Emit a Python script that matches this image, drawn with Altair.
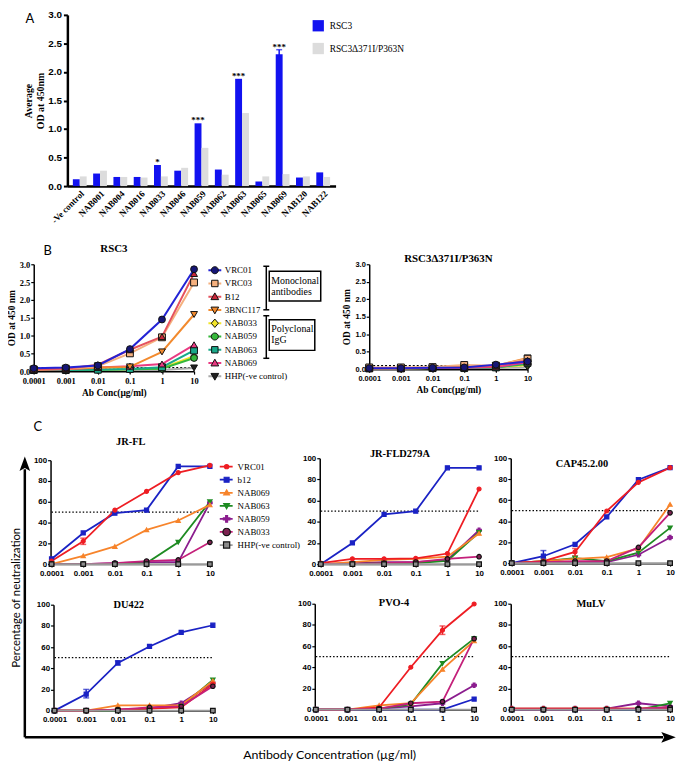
import altair as alt
import pandas as pd

W, H = 676, 756
SERIF = "Liberation Serif"
SANS = "Liberation Sans"
CAL = "Lato"

conc = [0.0001, 0.001, 0.01, 0.1, 1, 10]

# ---------------- Panel A data ----------------
a_categories = ["-Ve control", "NAB001", "NAB004", "NAB016", "NAB033", "NAB046", "NAB059",
                "NAB062", "NAB063", "NAB065", "NAB069", "NAB120", "NAB122"]
a_series = ["RSC3", "RSC3\u0394371I/P363N"]
a_rsc3 = [0.12, 0.22, 0.16, 0.16, 0.37, 0.27, 1.10, 0.29, 1.88, 0.08, 2.31, 0.15, 0.24]
a_mutant = [0.17, 0.27, 0.16, 0.15, 0.17, 0.32, 0.67, 0.20, 1.28, 0.17, 0.21, 0.17, 0.16]
a_err_category = ["NAB069"]
a_err_low = [2.23]
a_err_high = [2.39]
a_star_category = ["NAB033", "NAB059", "NAB063", "NAB069"]
a_star_height = [0.37, 1.10, 1.88, 2.39]
a_star_label = ["*", "***", "***", "***"]
a_colors = ["#1212F0", "#DCDCDC"]
a_ticks = [0.0, 0.5, 1.0, 1.5, 2.0, 2.5, 3.0]

# ---------------- Panel B data ----------------
b_series = ["VRC01", "VRC03", "B12", "3BNC117", "NAB033", "NAB059", "NAB063", "NAB069", "HHP(-ve control)"]
b_draw_order = ["HHP(-ve control)", "NAB033", "NAB059", "NAB063", "NAB069", "3BNC117", "VRC03", "B12", "VRC01"]
b_line_colors = ["#2323D5", "#F5B07E", "#E5525E", "#F28A2E", "#F2E52A", "#36B83B", "#1AA889", "#E93A82", "#A9A9A9"]
b_fill_colors = ["#161675", "#F5B07E", "#C8283A", "#F28A2E", "#F2E52A", "#36B83B", "#1AA889", "#E93A82", "#202020"]
b_shapes = ["circle", "square", "triangle-up", "triangle-down", "diamond", "circle", "square", "triangle-up", "triangle-down"]
b_rsc3 = {
    "VRC01": [0.08, 0.10, 0.16, 0.62, 1.45, 2.86],
    "VRC03": [0.05, 0.07, 0.14, 0.50, 0.95, 2.49],
    "B12": [0.05, 0.07, 0.18, 0.60, 0.97, 2.74],
    "3BNC117": [0.04, 0.06, 0.10, 0.12, 0.54, 1.59],
    "NAB033": [0.03, 0.03, 0.04, 0.05, 0.09, 0.42],
    "NAB059": [0.03, 0.03, 0.04, 0.05, 0.07, 0.37],
    "NAB063": [0.03, 0.03, 0.04, 0.06, 0.11, 0.58],
    "NAB069": [0.04, 0.05, 0.10, 0.14, 0.20, 0.74],
    "HHP(-ve control)": [0.03, 0.03, 0.03, 0.03, 0.03, 0.09],
}
b_mutant = {
    "VRC01": [0.03, 0.03, 0.04, 0.05, 0.13, 0.22],
    "VRC03": [0.05, 0.05, 0.06, 0.12, 0.10, 0.30],
    "B12": [0.03, 0.03, 0.03, 0.05, 0.10, 0.25],
    "3BNC117": [0.03, 0.03, 0.04, 0.08, 0.10, 0.32],
    "NAB033": [0.02, 0.02, 0.03, 0.03, 0.05, 0.12],
    "NAB059": [0.02, 0.02, 0.03, 0.03, 0.05, 0.15],
    "NAB063": [0.02, 0.02, 0.03, 0.03, 0.05, 0.18],
    "NAB069": [0.02, 0.02, 0.03, 0.04, 0.06, 0.20],
    "HHP(-ve control)": [0.03, 0.03, 0.03, 0.03, 0.03, 0.05],
}
b_threshold = 0.1
b_ticks = [0.0, 0.5, 1.0, 1.5, 2.0, 2.5, 3.0]

# ---------------- Panel C data ----------------
c_series = ["VRC01", "b12", "NAB069", "NAB063", "NAB059", "NAB033", "HHP(-ve control)"]
c_draw_order = ["NAB059", "NAB063", "NAB069", "b12", "VRC01", "NAB033", "HHP(-ve control)"]
c_line_colors = ["#EE1D23", "#1A22C4", "#F7842B", "#1E8B22", "#8B1D8E", "#C4207A", "#9A9A9A"]
c_fill_colors = ["#EE1D23", "#1A22C4", "#F7842B", "#1E8B22", "#8B1D8E", "#7B2250", "#8C8C8C"]
c_stroke_colors = ["#EE1D23", "#1A22C4", "#F7842B", "#1E8B22", "#8B1D8E", "#111111", "#111111"]
c_shapes = ["circle", "square", "triangle-up", "triangle-down", "cross", "circle", "square"]
c_sizes = [16, 22, 24, 24, 30, 42, 32]
c_threshold = 50
c_ticks = [0, 20, 40, 60, 80, 100]

c_jrfl = {
    "VRC01": [3, 22, 52, 70, 88, 95], "b12": [5, 30, 49, 52, 94, 94],
    "NAB069": [0, 8, 17, 33, 42, 57], "NAB063": [0, 0, 0, 1, 21, 60],
    "NAB059": [0, 0, 1, 2, 2, 59], "NAB033": [0, 0, 1, 3, 4, 21],
    "HHP(-ve control)": [0, 0, 0, 0, 0, 0]}
c_jrfl_d279a = {
    "VRC01": [1, 5, 5, 5.5, 10, 71], "b12": [0, 20, 47, 50, 91, 91],
    "NAB069": [0, 2, 4, 5, 7, 29], "NAB063": [0, 0, 1, 1, 3, 30],
    "NAB059": [0, 1, 2, 2, 4, 32], "NAB033": [0, 0, 1, 2, 5, 7],
    "HHP(-ve control)": [0, 0, 0, 0, 0, 0]}
c_cap45 = {
    "VRC01": [0, 2, 10.7, 49.7, 77, 91], "b12": [0, 6.6, 18, 44, 79.5, 91],
    "NAB069": [0, 2, 4, 5.7, 14, 56], "NAB063": [0, 2, 4.7, 2, 10, 33.6],
    "NAB059": [0, 1, 1, 1, 8, 24.5], "NAB033": [0, 1, 2, 2, 15, 48],
    "HHP(-ve control)": [0, 0, 0, 0, 0, 0]}
c_du422 = {
    "VRC01": [0, 0, 1, 2, 3, 25], "b12": [0, 15.6, 45, 60.6, 73.8, 80.6],
    "NAB069": [0, 0, 5, 5, 5, 28], "NAB063": [0, 0, 0, 2, 4, 29],
    "NAB059": [0, 0, 1, 2, 7, 26], "NAB033": [0, 0, 1, 3, 4, 23],
    "HHP(-ve control)": [0, 0, 0, 0, 0, 0]}
c_pvo4 = {
    "VRC01": [0, 0, 2, 40, 75, 99.7], "b12": [0, 0, 0, 0, 0, 10],
    "NAB069": [0, 0, 4, 6, 38, 65], "NAB063": [0, 0, 1, 5, 43.7, 67],
    "NAB059": [0, 0, 1, 3, 6, 23], "NAB033": [0, 0, 1, 6, 7.6, 67],
    "HHP(-ve control)": [0, 0, 0, 0, 0, 0]}
c_mulv = {
    "VRC01": [1, 1, 1, 1, 1, 1], "b12": [0, 0, 0, 0, 0, 1],
    "NAB069": [1, 1, 1, 1, 1, 2], "NAB063": [0, 0, 0, 0, 0, 6],
    "NAB059": [1, 1, 1, 1, 6, 3], "NAB033": [0, 0, 0, 0, 1, 2],
    "HHP(-ve control)": [0, 0, 0, 0, 0, 0]}

c_err_panel = ["JR-FL", "CAP45.2.00", "CAP45.2.00", "DU422", "DU422", "PVO-4"]
c_err_series = ["VRC01", "b12", "VRC01", "b12", "b12", "VRC01"]
c_err_conc = [0.001, 0.001, 0.01, 0.001, 0.01, 1]
c_err_low = [19, 2, 7, 12, 43, 71]
c_err_high = [25, 12, 14, 20, 47, 79]

# legend symbol paths (unit box, scaled by legend symbol size)
LINE_PATH = "M-1,0H1"
ARROW_UP = "M0,-1L0.55,0.5L0,0.2L-0.55,0.5Z"
ARROW_RIGHT = "M1,0L-0.5,0.55L-0.2,0L-0.5,-0.55Z"
def circ(r):
    return f"M{r},0A{r},{r},0,1,1,{-r},0A{r},{r},0,1,1,{r},0Z"
def sq(r):
    return f"M{-r},{-r}H{r}V{r}H{-r}Z"
def tri_up(r):
    return f"M0,{-r}L{r},{r * 0.75}H{-r}Z"
def tri_down(r):
    return f"M0,{r}L{r},{-r * 0.75}H{-r}Z"
def diam(r):
    return f"M0,{-r}L{r * 0.85},0L0,{r}L{-r * 0.85},0Z"
def plus(r):
    t = r * 0.3
    return (f"M{-r},{-t}H{-t}V{-r}H{t}V{-t}H{r}V{t}H{t}V{r}H{-t}V{t}H{-r}Z")

b_legend_paths = [circ(0.55), sq(0.5), tri_up(0.6), tri_down(0.6), diam(0.65), circ(0.55), sq(0.5), tri_up(0.6), tri_down(0.6)]
c_legend_paths = [circ(0.33), sq(0.38), tri_up(0.45), tri_down(0.45), plus(0.5), circ(0.58), sq(0.48)]


# ---------------- helpers ----------------
def x_axis(y0, font, size, title=None):
    kw = dict(orient="bottom", offset=y0 - H, values=conc, format="~g", labelFont=font,
              labelFontWeight="bold", labelFontSize=size, labelColor="black", labelFlush=False,
              labelOverlap=False, labelBound=False, labelPadding=2, tickSize=3, tickWidth=1.2,
              tickColor="black", domainColor="black", domainWidth=1.5, grid=False)
    if title:
        kw.update(title=title, titleFont=SERIF, titleFontWeight="bold", titleFontSize=9.5,
                  titleColor="black", titlePadding=3)
    else:
        kw.update(title=None)
    return alt.Axis(**kw)


def y_axis(x0, font, size, ticks, fmt, title=None):
    kw = dict(orient="left", offset=-x0, values=ticks, format=fmt, labelFont=font,
              labelFontWeight="bold", labelFontSize=size, labelColor="black", labelFlush=False,
              labelOverlap=False, labelBound=False, labelPadding=1, tickSize=3, tickWidth=1.2,
              tickColor="black", domainColor="black", domainWidth=1.5, grid=False)
    if title:
        kw.update(title=title, titleFont=SERIF, titleFontWeight="bold", titleFontSize=9.5,
                  titleColor="black", titlePadding=3)
    else:
        kw.update(title=None)
    return alt.Axis(**kw)


def dose_panel(values, series, order, line_colors, fill_colors, stroke_colors, shapes, sizes,
               xr, yr, ydom, xaxis, yaxis, line_width, pt_stroke, threshold, dash, errors=None):
    rows = [{"conc": c, "val": v, "series": s} for s in order for c, v in zip(conc, values[s])]
    df = pd.DataFrame(rows)
    X = alt.X("conc:Q", scale=alt.Scale(type="log", domain=[conc[0], conc[-1]], range=[xr[0], xr[1]], nice=False), axis=xaxis)
    Y = alt.Y("val:Q", scale=alt.Scale(domain=ydom, range=[yr[0], yr[1]], nice=False, zero=False), axis=yaxis)
    col = alt.Color("series:N", scale=alt.Scale(domain=series, range=line_colors), legend=None)
    layers = []
    thr = pd.DataFrame({"conc": [conc[0]], "conc2": [conc[-1]], "val": [threshold]})
    layers.append(alt.Chart(thr).mark_rule(color="black", strokeWidth=1.2, strokeDash=dash)
                  .encode(x=X, x2="conc2:Q", y=Y))
    layers.append(alt.Chart(df).mark_line(strokeWidth=line_width).encode(x=X, y=Y, color=col))
    if errors is not None and len(errors) > 0:
        edf = pd.DataFrame(errors)
        layers.append(alt.Chart(edf).mark_rule(strokeWidth=1.5).encode(x=X, y=Y, y2="val2:Q", color=col))
        caps = pd.DataFrame({"conc": list(edf["conc"]) * 2, "val": list(edf["val"]) + list(edf["val2"]),
                             "series": list(edf["series"]) * 2})
        layers.append(alt.Chart(caps).mark_tick(orient="horizontal", size=6, thickness=1.5)
                      .encode(x=X, y=Y, color=col))
    layers.append(alt.Chart(df).mark_point(filled=True, opacity=1, strokeWidth=pt_stroke).encode(
        x=X, y=Y,
        fill=alt.Fill("series:N", scale=alt.Scale(domain=series, range=fill_colors), legend=None),
        stroke=alt.Stroke("series:N", scale=alt.Scale(domain=series, range=stroke_colors), legend=None),
        shape=alt.Shape("series:N", scale=alt.Scale(domain=series, range=shapes), legend=None),
        size=alt.Size("series:N", scale=alt.Scale(domain=series, range=sizes), legend=None)))
    return alt.layer(*layers)


def line_legend_layer(series, colors, lx, ly, sw, label_offset, row_pad):
    leg = alt.Legend(orient="none", legendX=lx, legendY=ly, title=None, symbolType=LINE_PATH,
                     symbolSize=169, symbolStrokeWidth=sw, labelFont=SERIF, labelFontSize=9,
                     labelColor="black", labelOffset=label_offset, rowPadding=row_pad, padding=0,
                     clipHeight=9)
    return alt.Chart(alt.Data(values=[])).mark_point(filled=False, opacity=1, size=169, strokeWidth=sw,
                                                     shape=LINE_PATH).encode(
        x=alt.value(0), y=alt.value(0),
        stroke=alt.Stroke("series:N", scale=alt.Scale(domain=series, range=colors), legend=leg))


def marker_legend_layer(series, fills, strokes, paths, lx, ly, sw, row_pad):
    leg = alt.Legend(orient="none", legendX=lx, legendY=ly, title=None, symbolSize=169,
                     symbolStrokeWidth=sw, labelExpr="''", labelFont=SERIF, labelFontSize=9,
                     rowPadding=row_pad, padding=0, clipHeight=9)
    return alt.Chart(alt.Data(values=[])).mark_point(filled=True, opacity=1, size=169, strokeWidth=sw).encode(
        x=alt.value(0), y=alt.value(0),
        fill=alt.Fill("series:N", scale=alt.Scale(domain=series, range=fills), legend=leg),
        stroke=alt.Stroke("series:N", scale=alt.Scale(domain=series, range=strokes), legend=leg),
        shape=alt.Shape("series:N", scale=alt.Scale(domain=series, range=paths), legend=leg))


ONE = alt.Data(values=[{"k": 1}])


def note(text, x, y, size, font, weight="normal", angle=0, align="center"):
    return alt.Chart(ONE).mark_text(text=text, font=font, fontSize=size, fontWeight=weight, angle=angle,
                                    align=align, baseline="middle", color="black").encode(
        x=alt.value(x), y=alt.value(y))


def vline(x, y1, y2, w=1.5):
    return alt.Chart(ONE).mark_rule(color="black", strokeWidth=w).encode(
        x=alt.value(x), y=alt.value(y1), y2=alt.value(y2))


def hline(x1, x2, y, w=1.5):
    return alt.Chart(ONE).mark_rule(color="black", strokeWidth=w).encode(
        x=alt.value(x1), x2=alt.value(x2), y=alt.value(y))


def box(x1, x2, y1, y2, w=1.5):
    return alt.Chart(ONE).mark_rect(fillOpacity=0, stroke="black", strokeWidth=w).encode(
        x=alt.value(x1), x2=alt.value(x2), y=alt.value(y1), y2=alt.value(y2))


def arrowhead(x, y, shape):
    return alt.Chart(ONE).mark_point(shape=shape, filled=True, color="black", size=380, opacity=1).encode(
        x=alt.value(x), y=alt.value(y))


layers = []

# ---------------- Panel A ----------------
dfA = pd.DataFrame({"cat": a_categories * 2,
                    "series": [a_series[0]] * len(a_categories) + [a_series[1]] * len(a_categories),
                    "val": a_rsc3 + a_mutant})
xA = alt.X("cat:N", sort=a_categories,
           scale=alt.Scale(domain=a_categories, range=[60, 331], paddingInner=0.32, paddingOuter=0.27),
           axis=alt.Axis(orient="bottom", offset=176 - H, labelAngle=-45, labelFont=SERIF,
                         labelFontWeight="bold", labelFontSize=9, labelColor="black", ticks=False,
                         domainColor="black", domainWidth=2.5, labelPadding=3, title=None))
yA = alt.Y("val:Q", scale=alt.Scale(domain=[0, 3], range=[176, 3], nice=False, zero=False),
           axis=alt.Axis(orient="left", offset=-60, values=a_ticks, format=".1f", labelFont=SANS,
                         labelFontWeight="bold", labelFontSize=10, labelColor="black", tickColor="black",
                         tickSize=4, tickWidth=2, domainColor="black", domainWidth=2.5, labelPadding=2,
                         grid=False, labelFlush=False, labelOverlap=False,
                         title=["Average", "OD at 450nm"], titleFont=SERIF, titleFontWeight="bold",
                         titleFontSize=10, titleColor="black", titlePadding=2))
xoA = alt.XOffset("series:N", sort=a_series, scale=alt.Scale(domain=a_series, paddingInner=0, paddingOuter=0))
legA = alt.Legend(orient="none", legendX=307.5, legendY=8, title=None, symbolType="square",
                  symbolSize=130, symbolStrokeWidth=0, labelFont=SERIF, labelFontSize=9.5,
                  labelColor="black", labelOffset=5.5, rowPadding=11, padding=0)
barsA = alt.Chart(dfA).mark_bar().encode(
    x=xA, xOffset=xoA, y=yA,
    color=alt.Color("series:N", scale=alt.Scale(domain=a_series, range=a_colors), legend=legA))
dfAe = pd.DataFrame({"cat": a_err_category, "series": [a_series[0]] * len(a_err_category), "val": a_err_low,
                     "val2": a_err_high})
errA = alt.Chart(dfAe).mark_rule(color=a_colors[0], strokeWidth=1.5).encode(x=xA, xOffset=xoA, y=yA, y2="val2:Q")
dfAc = pd.DataFrame({"cat": a_err_category, "series": [a_series[0]] * len(a_err_category), "val": a_err_high})
capA = alt.Chart(dfAc).mark_tick(color=a_colors[0], thickness=1.5, size=6, orient="horizontal").encode(
    x=xA, xOffset=xoA, y=yA)
dfAs = pd.DataFrame({"cat": a_star_category, "series": [a_series[0]] * len(a_star_category),
                     "val": a_star_height, "lab": a_star_label})
starsA = alt.Chart(dfAs).mark_text(font=SERIF, fontSize=9, fontWeight="bold", baseline="middle", dy=-3,
                                   color="black").encode(x=xA, xOffset=xoA, y=yA, text="lab:N")
layers.append(alt.layer(barsA, errA, capA, starsA))

# ---------------- Panel B ----------------
b_stroke = ["#111111"] * len(b_series)
b_sizes = [48] * len(b_series)
layers.append(dose_panel(
    b_rsc3, b_series, b_draw_order, b_line_colors, b_fill_colors, b_stroke, b_shapes, b_sizes,
    xr=(26, 188), yr=(363, 255), ydom=[0, 3],
    xaxis=x_axis(363, SERIF, 8.5, "Ab Conc(\u00b5g/ml)"),
    yaxis=y_axis(26, SERIF, 8.5, b_ticks, ".1f", "OD at 450 nm"),
    line_width=2, pt_stroke=1, threshold=b_threshold, dash=[2, 2]))
layers.append(dose_panel(
    b_mutant, b_series, b_draw_order, b_line_colors, b_fill_colors, b_stroke, b_shapes, b_sizes,
    xr=(365, 525), yr=(361, 255), ydom=[0, 3],
    xaxis=x_axis(361, SANS, 7.5, "Ab Conc(\u00b5g/ml)"),
    yaxis=y_axis(365, SANS, 7.5, b_ticks, ".1f", "OD at 450 nm"),
    line_width=2, pt_stroke=1, threshold=b_threshold, dash=[2, 2]))
layers.append(line_legend_layer(b_series, b_line_colors, 201.5, 256.5, 2, 2.5, 3.4))
layers.append(marker_legend_layer(b_series, b_fill_colors, b_stroke, b_legend_paths, 202, 256.5, 1, 3.4))

# ---------------- Panel C ----------------
c_panels = [
    ("JR-FL", c_jrfl, (44, 204), (558, 453), (124, 435)),
    ("JR-FLD279A", c_jrfl_d279a, (316, 476), (558, 451), (396, 447)),
    ("CAP45.2.00", c_cap45, (509, 669), (557, 451), (580, 457)),
    ("DU422", c_du422, (47, 207), (706, 599), (122, 599)),
    ("PVO-4", c_pvo4, (311, 471), (705, 598), (390, 597)),
    ("MuLV", c_mulv, (509, 669), (705, 598), (589, 598)),
]
for name, vals, xr, yr, tpos in c_panels:
    errs = [{"conc": c, "val": lo, "val2": hi, "series": s}
            for p, s, c, lo, hi in zip(c_err_panel, c_err_series, c_err_conc, c_err_low, c_err_high) if p == name]
    layers.append(dose_panel(
        vals, c_series, c_draw_order, c_line_colors, c_fill_colors, c_stroke_colors, c_shapes, c_sizes,
        xr=xr, yr=yr, ydom=[0, 100],
        xaxis=x_axis(yr[0], SANS, 8),
        yaxis=y_axis(xr[0] - 1, SANS, 8, c_ticks, "d"),
        line_width=1.8, pt_stroke=1.2, threshold=c_threshold, dash=[1.5, 2],
        errors=errs))
    layers.append(note(name, tpos[0], tpos[1], 10.5, SERIF, "bold"))
layers.append(line_legend_layer(c_series, c_line_colors, 213, 455, 1.8, 4, 3.2))
layers.append(marker_legend_layer(c_series, c_fill_colors, c_stroke_colors, c_legend_paths, 213.4, 455, 1.2, 3.2))

# ---------------- annotations ----------------
layers += [
    note("A", 22, 7, 13, CAL),
    note("B", 40, 242, 13, CAL),
    note("C", 30, 419, 13, CAL),
    note("RSC3", 107, 240, 11, SERIF, "bold"),
    note("RSC3\u0394371I/P363N", 445, 250, 11, SERIF, "bold"),
    note("Monoclonal", 266, 272, 10, SERIF, align="left"),
    note("antibodies", 266, 283, 10, SERIF, align="left"),
    note("Polyclonal", 266, 320, 10, SERIF, align="left"),
    note("IgG", 266, 332, 10, SERIF, align="left"),
    vline(261, 257, 301), hline(258, 264, 257), hline(258, 264, 301),
    vline(261, 307, 350), hline(258, 264, 307), hline(258, 264, 350),
    box(264, 316, 262, 292), box(264, 310, 311, 342),
    vline(17, 462, 733, 2.5), hline(17, 662, 733, 2.5),
    arrowhead(17, 459, ARROW_UP), arrowhead(665, 733, ARROW_RIGHT),
    note("Percentage of neutralization", 9, 592, 11.5, CAL, angle=270),
    note("Antibody Concentration (\u00b5g/ml)", 325, 751, 12.5, CAL),
]

chart = alt.layer(*layers).resolve_scale(
    x="independent", y="independent", color="independent", fill="independent",
    stroke="independent", shape="independent", size="independent"
).resolve_legend(
    color="independent", fill="independent", stroke="independent", shape="independent", size="independent"
).properties(
    width=W, height=H, padding=0, autosize=alt.AutoSizeParams(type="none"), background="white"
).configure_view(stroke=None)

chart.save("out.html", embed_options={"renderer": "svg", "actions": False})
